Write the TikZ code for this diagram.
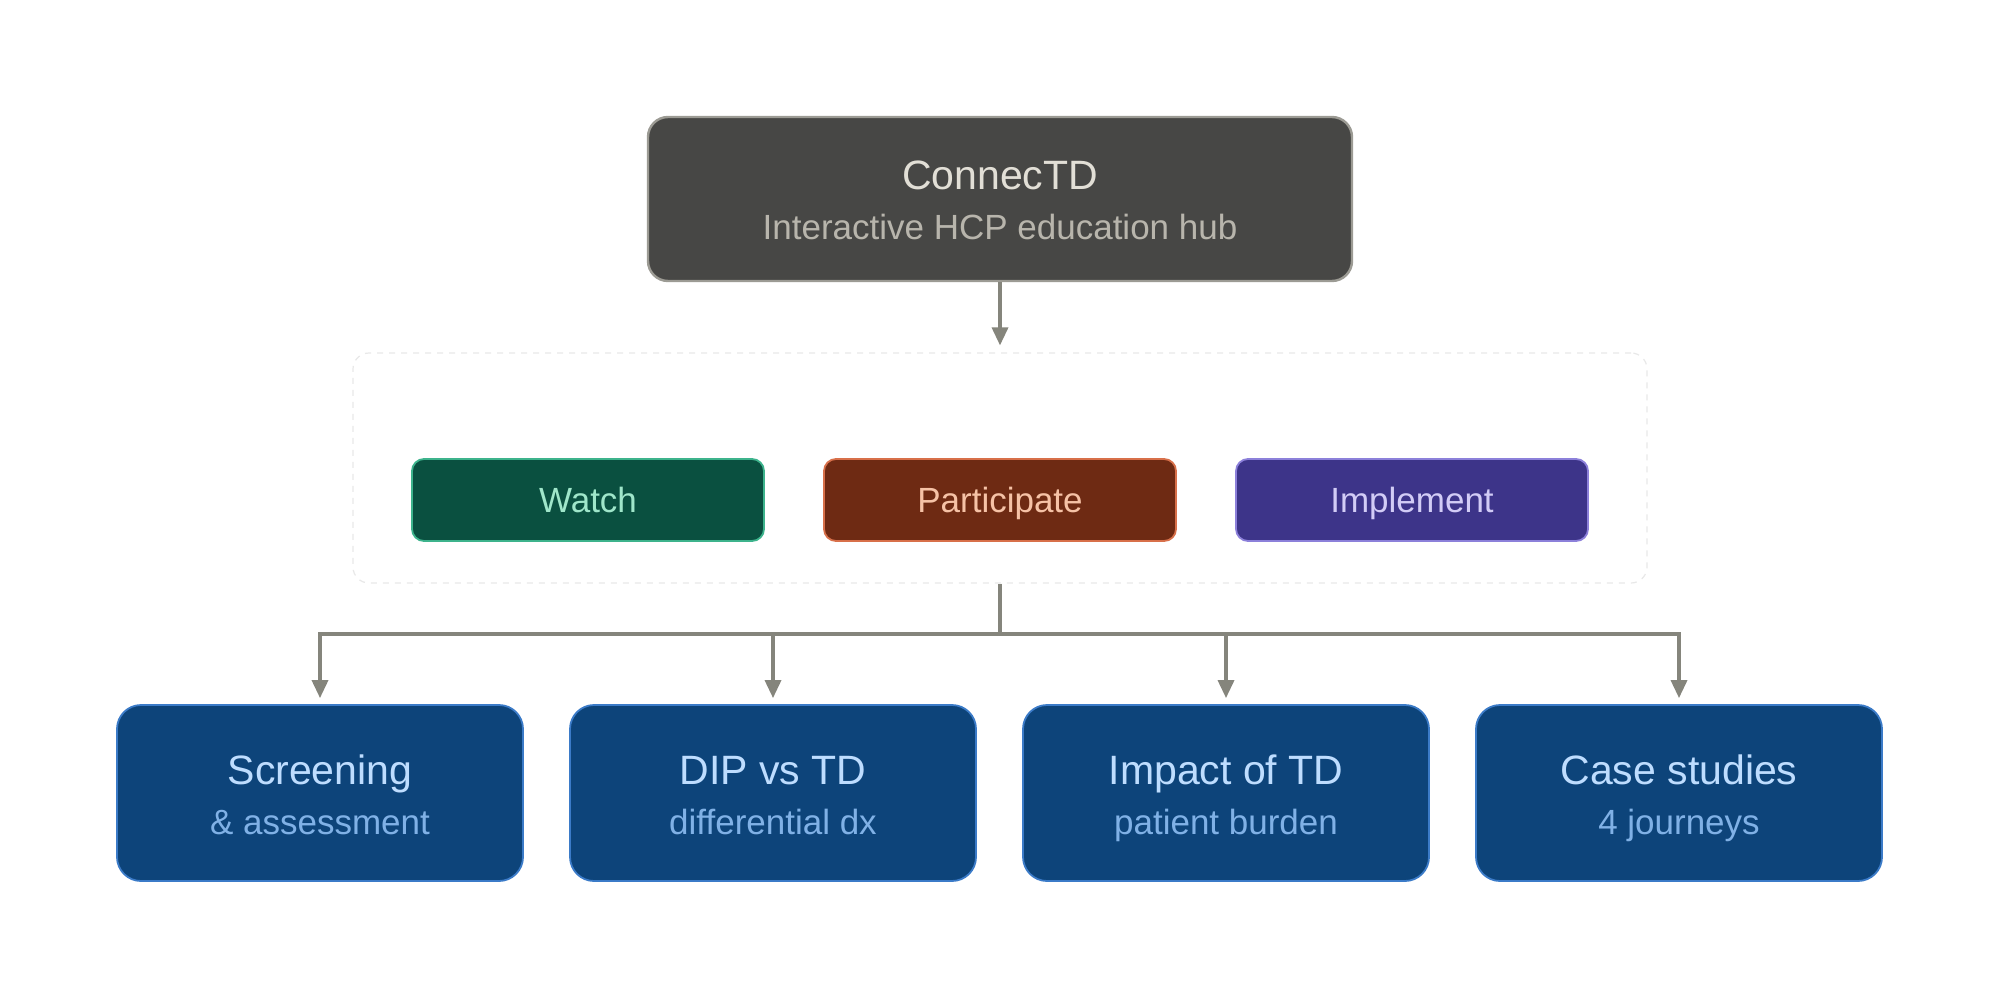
\documentclass[tikz,border=0pt]{standalone}
\usepackage{fontspec}
\setmainfont{Liberation Sans}
\usetikzlibrary{arrows.meta}
\definecolor{hubfill}{HTML}{474745}
\definecolor{hubdraw}{HTML}{9C9B94}
\definecolor{hubtitle}{HTML}{E2DFD6}
\definecolor{hubsub}{HTML}{B8B5AC}
\definecolor{wfill}{HTML}{0A5040}
\definecolor{wdraw}{HTML}{3DB38C}
\definecolor{wtext}{HTML}{9FE6CA}
\definecolor{pfill}{HTML}{6E2A13}
\definecolor{pdraw}{HTML}{D8704A}
\definecolor{ptext}{HTML}{F6C2A6}
\definecolor{ifill}{HTML}{3D3489}
\definecolor{idraw}{HTML}{8C80DA}
\definecolor{itext}{HTML}{D2CCF6}
\definecolor{bfill}{HTML}{0D447A}
\definecolor{bdraw}{HTML}{3B7BC8}
\definecolor{btitle}{HTML}{BEDDFF}
\definecolor{bsub}{HTML}{80B1E6}
\definecolor{conn}{HTML}{85857C}
\definecolor{grp}{HTML}{E8E8E8}
\tikzset{
  hubbox/.style={draw=hubdraw, fill=hubfill, line width=1.2pt, rounded corners=10pt, minimum width=352pt, minimum height=82pt, inner sep=0pt},
  modebox/.style={line width=0.9pt, rounded corners=6pt, minimum width=176pt, minimum height=41pt, inner sep=0pt, text height=12.5pt, text depth=0pt, font=\fontsize{17.5}{20}\selectfont},
  topicbox/.style={draw=bdraw, fill=bfill, line width=0.9pt, rounded corners=12pt, minimum width=203pt, minimum height=88pt, inner sep=0pt},
  titletext/.style={font=\fontsize{20.5}{24}\selectfont, inner sep=0pt, anchor=base},
  subtext/.style={font=\fontsize{17.5}{20}\selectfont, inner sep=0pt, anchor=base},
  connline/.style={draw=conn, line width=1.7pt},
  connarrow/.style={connline, -{Triangle[width=8pt,length=9pt]}},
  groupbox/.style={draw=grp, dashed, line width=0.6pt, rounded corners=8pt, minimum width=647pt, minimum height=115pt, inner sep=0pt}
}
\begin{document}
\begin{tikzpicture}[x=0.5pt,y=-0.5pt]
\useasboundingbox[fill=white] (0,0) rectangle (2000,1000);
% hub
\node[hubbox] (hub) at (1000,199) {};
\node[titletext, text=hubtitle] (hubt) at (1000,190) {ConnecTD};
\node[subtext, text=hubsub] (hubs) at (1000,240) {Interactive HCP education hub};
% group
\node[groupbox] (group) at (1000,468) {};
\node[modebox, draw=wdraw, fill=wfill, text=wtext] (watch) at (588,500) {Watch};
\node[modebox, draw=pdraw, fill=pfill, text=ptext] (part) at (1000,500) {Participate};
\node[modebox, draw=idraw, fill=ifill, text=itext] (impl) at (1412,500) {Implement};
% topics
\node[topicbox] (b1) at (320,793) {};
\node[topicbox] (b2) at (773,793) {};
\node[topicbox] (b3) at (1226,793) {};
\node[topicbox] (b4) at (1679,793) {};
\node[titletext, text=btitle] (b1t) at (320,784) {Screening};
\node[subtext, text=bsub] (b1s) at (320,834) {\& assessment};
\node[titletext, text=btitle] (b2t) at (773,784) {DIP vs TD};
\node[subtext, text=bsub] (b2s) at (773,834) {differential dx};
\node[titletext, text=btitle] (b3t) at (1226,784) {Impact of TD};
\node[subtext, text=bsub] (b3s) at (1226,834) {patient burden};
\node[titletext, text=btitle] (b4t) at (1679,784) {Case studies};
\node[subtext, text=bsub] (b4s) at (1679,834) {4 journeys};
% connectors
\coordinate (bus) at (1000,634);
\draw[connarrow] (hub.south) -- ([yshift=3.5pt]group.north);
\draw[connline] (group.south) -- (bus);
\draw[connarrow] (bus) -| ([yshift=3pt]b1.north);
\draw[connarrow] (bus) -| ([yshift=3pt]b2.north);
\draw[connarrow] (bus) -| ([yshift=3pt]b3.north);
\draw[connarrow] (bus) -| ([yshift=3pt]b4.north);
\end{tikzpicture}
\end{document}
